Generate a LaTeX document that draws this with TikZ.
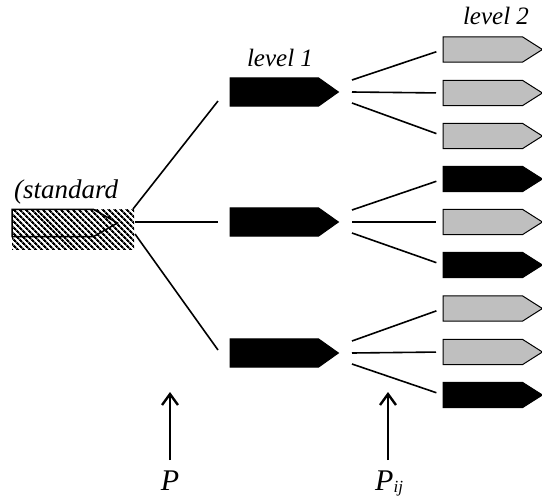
\documentclass[tikz,border=0pt]{standalone}
\usepackage{fontspec}
\setmainfont{Liberation Serif}
\usetikzlibrary{patterns.meta,arrows.meta}

\begin{document}
\begin{tikzpicture}[x=1pt,y=-1pt,
  box/.style={rectangle, inner sep=0pt, anchor=west},
  big/.style={box, minimum width=108pt, minimum height=28pt},
  small/.style={box, minimum width=99pt, minimum height=25pt},
  dark/.style={fill=black, draw=black},
  light/.style={fill=gray!50, draw=black},
  outline/.style={draw=black},
  link/.style={line width=1.6pt},
  lbl/.style={font=\itshape\fontsize{25}{30}\selectfont, inner sep=0pt},
  plbl/.style={font=\itshape\fontsize{30}{36}\selectfont, inner sep=0pt, anchor=base},
  ptr/.style={line width=2.4pt, -{Straight Barb[length=11pt,width=16pt,line width=2.4pt]}}
]
\useasboundingbox (0,0) rectangle (542,498);

% hatched standard
\node[minimum width=122pt, minimum height=40pt, inner sep=0pt,
  pattern={Lines[angle=-45,distance=4pt,line width=2.2pt]}] (std) at (73,229.5) {};
\node[box, minimum width=105pt, minimum height=27pt] (stdtag) at (12,223) {};
\node[lbl, anchor=base west, font=\itshape\fontsize{27}{32}\selectfont] (t0) at (14,198) {(standard};

% level 1
\node[big] (a1) at (230,92) {};
\node[big] (a2) at (230,222) {};
\node[big] (a3) at (230,353) {};
\node[lbl] (t1) at (280,58) {level 1};

% level 2
\node[small] (b1) at (443,49.5) {};
\node[small] (b2) at (443,93) {};
\node[small] (b3) at (443,136) {};
\node[small] (b4) at (443,179) {};
\node[small] (b5) at (443,222) {};
\node[small] (b6) at (443,265) {};
\node[small] (b7) at (443,308.5) {};
\node[small] (b8) at (443,352) {};
\node[small] (b9) at (443,395) {};
\node[lbl] (t2) at (496,16) {level 2};

% pointed tags drawn over the boxes
\foreach \n/\s/\t/\w in {stdtag/outline/24/1.5, a1/dark/20/1, a2/dark/20/1, a3/dark/20/1,
    b1/light/20/1, b2/light/20/1, b3/light/20/1, b4/dark/20/1, b5/light/20/1,
    b6/dark/20/1, b7/light/20/1, b8/light/20/1, b9/dark/20/1}{
  \path[\s, line width=\w pt, line join=miter]
    (\n.north west) -- ([xshift=-\t pt]\n.north east) -- (\n.east)
    -- ([xshift=-\t pt]\n.south east) -- (\n.south west) -- cycle;
}

% branches from the standard
\coordinate (s1) at (133,209);
\coordinate (s2) at (135,222);
\coordinate (s3) at (135,234);
\coordinate (e1) at (218,101);
\coordinate (e2) at (218,222);
\coordinate (e3) at (218,350);
\draw[link] (s1) -- (e1);
\draw[link] (s2) -- (e2);
\draw[link] (s3) -- (e3);

% branches from level 1 to level 2
\foreach \a/\y/\i/\j/\k in {a1/92/b1/b2/b3, a2/222/b4/b5/b6, a3/353/b7/b8/b9}{
  \coordinate (\a u) at (352,\y-12);
  \coordinate (\a m) at (352,\y);
  \coordinate (\a d) at (352,\y+11);
  \draw[link, shorten >=7pt] (\a u) -- (\i.west);
  \draw[link, shorten >=7pt] (\a m) -- (\j.west);
  \draw[link, shorten >=7pt] (\a d) -- (\k.west);
}

% probability markers
\node[plbl] (p) at (170,490) {P};
\node[plbl, anchor=base west] (pij) at (375,490) {P\raisebox{-2pt}{\fontsize{17}{20}\selectfont ij}};
\coordinate (pbot) at (170,460);
\coordinate (ptop) at (170,392);
\coordinate (qbot) at (388,460);
\coordinate (qtop) at (388,392);
\draw[ptr] (pbot) -- (ptop);
\draw[ptr] (qbot) -- (qtop);
\end{tikzpicture}
\end{document}
